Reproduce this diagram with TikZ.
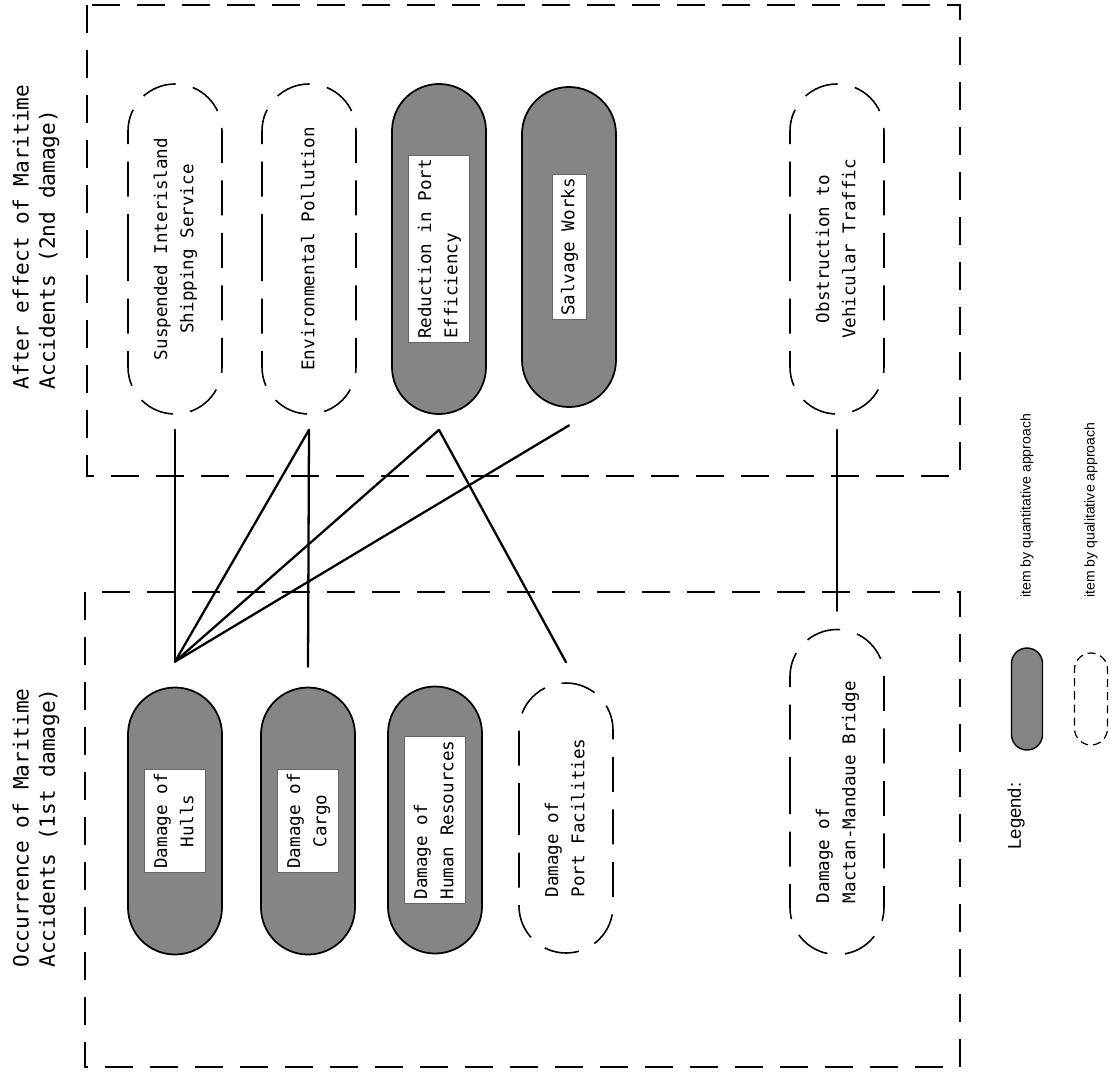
\documentclass[tikz,border=0pt]{standalone}
\usepackage{fontspec}
\setmonofont{DejaVu Sans Mono}
\newfontfamily\legendfont{Liberation Sans}
\usetikzlibrary{positioning,shapes.misc}

\setlength{\fboxsep}{2pt}
\newcommand{\itemtext}[2][c]{\begin{tabular}{@{}#1@{}}#2\end{tabular}}
\newcommand{\boxtext}[2][c]{\fcolorbox{black!60}{white}{\itemtext[#1]{#2}}}

\begin{document}
\begin{tikzpicture}[x=0.2mm,y=-0.2mm]
    \tikzstyle{item}=[rounded rectangle,rotate=90,minimum width=66mm,minimum height=18.8mm,inner sep=0pt,font=\ttfamily\fontsize{10}{15}\selectfont]
    \tikzstyle{quant item}=[item,draw=black,fill=black!48,line width=1pt]
    \tikzstyle{qual item}=[item,draw=black,line width=0.9pt,dash pattern=on 7mm off 3.5mm]
    \tikzstyle{frame}=[draw=black,line width=1pt,dash pattern=on 5.5mm off 3.5mm]
    \tikzstyle{title}=[rotate=90,align=left,font=\ttfamily\fontsize{12}{15}\selectfont]
    \tikzstyle{link}=[draw=black,line width=1.3pt,line cap=round]
    \tikzstyle{legend text}=[rotate=90,anchor=west,inner sep=0pt,font=\legendfont\fontsize{8}{9}\selectfont]

    \useasboundingbox (0,0) rectangle (1117,1075);

    % the two groups
    \draw[frame] (87,5) rectangle (960,476);
    \draw[frame] (85,592) rectangle (960,1067);
    \node[title] (after) at (36,237) {After effect of Maritime\\Accidents (2nd damage)};
    \node[title] (occur) at (36,828) {Occurrence of Maritime\\Accidents (1st damage)};

    % 2nd damage
    \node[qual item] (shipping) at (175,249) {\itemtext{Suspended Interisland\\Shipping Service}};
    \node[qual item] (pollution) at (309,249) {\itemtext{Environmental Pollution}};
    \node[quant item] (porteff) at (439,249) {\boxtext[l]{Reduction in Port\\Efficiency}};
    \node[quant item, minimum width=64mm] (salvage) at (569,247) {\boxtext{Salvage Works}};
    \node[qual item] (traffic) at (837,249) {\itemtext{Obstruction to\\Vehicular Traffic}};

    % 1st damage
    \node[quant item, minimum width=53.4mm] (hulls) at (175,821) {\boxtext{Damage of\\Hulls}};
    \node[quant item, minimum width=53.4mm] (cargo) at (308,821) {\boxtext{Damage of\\Cargo}};
    \node[quant item, minimum width=53.4mm] (humanres) at (435,820) {\boxtext[l]{Damage of\\Human Resources}};
    \node[qual item, minimum width=54mm] (portfac) at (566,818) {\itemtext[l]{Damage of\\Port Facilities}};
    \node[qual item, minimum width=65mm] (bridge) at (837,792) {\itemtext[l]{Damage of\\Mactan-Mandaue Bridge}};

    \coordinate[below=3mm of shipping.west] (shippingB);
    \coordinate[below=3mm of pollution.west] (pollutionB);
    \coordinate[below=3mm of porteff.west] (porteffB);
    \coordinate[below=3.5mm of salvage.west] (salvageB);
    \coordinate[below=3mm of traffic.west] (trafficB);
    \coordinate[above=5mm of hulls.east] (hullsT);
    \coordinate[above=4mm of cargo.east] (cargoT);
    \coordinate[above=4mm of portfac.east] (portfacT);
    \coordinate[above=3.6mm of bridge.east] (bridgeT);

    \draw[link] (hullsT) -- (shippingB);
    \draw[link] (hullsT) -- (pollutionB);
    \draw[link] (hullsT) -- (porteffB);
    \draw[link] (hullsT) -- (salvageB);
    \draw[link] (cargoT) -- (pollutionB);
    \draw[link] (portfacT) -- (porteffB);
    \draw[link] (bridgeT) -- (trafficB);

    % legend
    \node[rotate=90,font=\legendfont\fontsize{10.5}{12}\selectfont] (legend) at (1016,816) {Legend:};
    \node[quant item, minimum width=20.4mm, minimum height=6.2mm, line width=0.8pt] (legquant) at (1027,699) {};
    \node[qual item, minimum width=18.4mm, minimum height=6.6mm, line width=0.7pt, dash pattern=on 1.6mm off 1mm] (legqual) at (1091,699) {};
    \node[legend text] (quanttext) at (1027,598) {item by quantitative approach};
    \node[legend text] (qualtext) at (1091,598) {item by qualitative approach};
\end{tikzpicture}
\end{document}
